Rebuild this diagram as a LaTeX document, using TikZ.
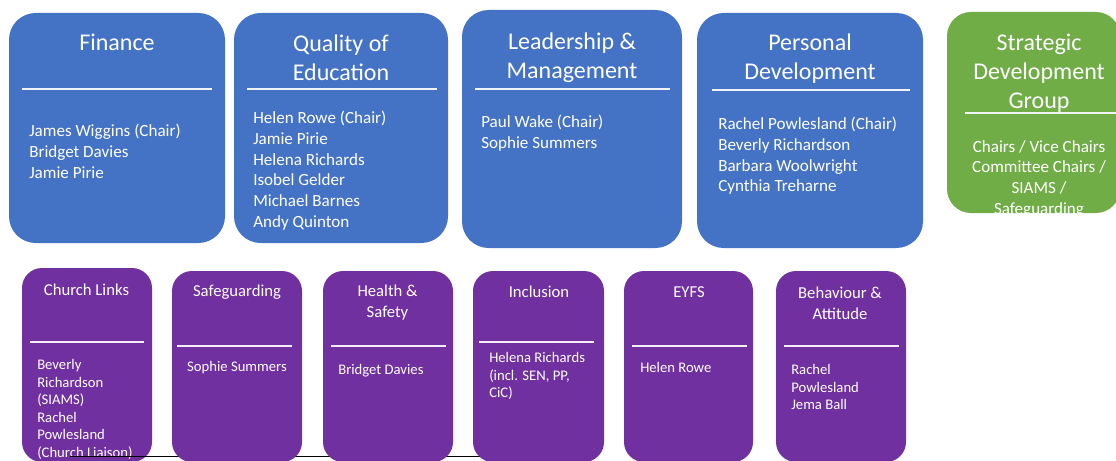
\documentclass[tikz,border=0pt]{standalone}
\usepackage{fontspec}
\setmainfont{Carlito}
\definecolor{govblue}{HTML}{4472C4}
\definecolor{govgreen}{HTML}{70AD47}
\definecolor{govpurple}{HTML}{7030A0}

\begin{document}
\begin{tikzpicture}[x=0.75pt, y=-0.75pt,
	box/.style = {rounded corners=20pt, inner sep=0pt},
	subbox/.style = {rounded corners=15pt, inner sep=0pt, fill=govpurple},
	boxsize/.style 2 args = {minimum width=#1*0.75pt, minimum height=#2*0.75pt},
	title/.style = {text=white, align=center, inner sep=0pt, font=\fontsize{18}{21.75}\selectfont},
	names/.style = {text=white, align=left, anchor=north west, inner sep=0pt, font=\fontsize{12.8}{15.5}\selectfont},
	subtitle/.style = {text=white, align=center, inner sep=0pt, font=\fontsize{12.5}{15.75}\selectfont},
	subnames/.style = {text=white, align=left, anchor=north west, inner sep=0pt, font=\fontsize{11}{13.2}\selectfont},
	rule/.style = {draw=white!92!govblue, line width=0.8pt}]
	\clip (0,0) rectangle (1116,460);

	% committees
	\node[box, fill=govblue, boxsize={216}{230}] (finance) at (117,128) {};
	\node[box, fill=govblue, boxsize={214}{230}] (quality) at (341,128) {};
	\node[box, fill=govblue, boxsize={220}{238}] (leadership) at (572,129) {};
	\node[box, fill=govblue, boxsize={226}{235}] (personal) at (810,130.5) {};
	\node[box, fill=govgreen, rounded corners=18pt, boxsize={173}{201}] (strategic) at (1033.5,112.5) {};

	\node[title] (financeT) at (117,42) {Finance};
	\node[title] (qualityT) at (341,58) {Quality of\\Education};
	\node[title] (leadershipT) at (572,57.5) {Leadership \&\\Management};
	\node[title] (personalT) at (810,59) {Personal\\Development};
	\node[title] (strategicT) at (1039,73) {Strategic\\Development\\Group};

	\draw[rule] (22,89) -- (212,89);
	\draw[rule] (247,89) -- (437,89);
	\draw[rule] (475,89) -- (670,89);
	\draw[rule] (712,90) -- (910,90);
	\draw[rule] (965,113) -- (1116,113);

	\node[names] (financeN) at (29,124) {James Wiggins (Chair)\\Bridget Davies\\Jamie Pirie};
	\node[names] (qualityN) at (253,111) {Helen Rowe (Chair)\\Jamie Pirie\\Helena Richards\\Isobel Gelder\\Michael Barnes\\Andy Quinton};
	\node[names] (leadershipN) at (481,115) {Paul Wake (Chair)\\Sophie Summers};
	\node[names] (personalN) at (718,117) {Rachel Powlesland (Chair)\\Beverly Richardson\\Barbara Woolwright\\Cynthia Treharne};
	\node[names, anchor=north, align=center] (strategicN) at (1039,140) {Chairs / Vice Chairs\\Committee Chairs /\\SIAMS /\\Safeguarding};

	% link groups
	\node[subbox, boxsize={130}{194}] (church) at (87,365) {};
	\node[subtitle] (churchT) at (86.5,290) {Church Links};
	\draw[rule, draw=white!92!govpurple] (30,342) -- (144,342);
	\node[subnames] (churchN) at (37,359) {Beverly\\Richardson\\(SIAMS)\\Rachel\\Powlesland\\(Church Liaison)};

	\coordinate (baseL) at (70,456);
	\coordinate (baseR) at (520,456);
	\draw[black, line width=0.7pt] (baseL) -- (baseR);

	\node[subbox, boxsize={130}{191}] (safe) at (237,366.5) {};
	\node[subbox, boxsize={130}{191}] (health) at (388,366.5) {};
	\node[subbox, boxsize={131}{191}] (inclusion) at (538.5,366.5) {};
	\node[subbox, boxsize={129}{191}] (eyfs) at (688.5,366.5) {};
	\node[subbox, boxsize={130}{191}] (behaviour) at (841,366.5) {};

	\node[subtitle] (safeT) at (237,292) {Safeguarding};
	\node[subtitle] (healthT) at (387.5,303) {Health \&\\Safety};
	\node[subtitle] (inclusionT) at (539,292) {Inclusion};
	\node[subtitle] (eyfsT) at (689,292) {EYFS};
	\node[subtitle] (behaviourT) at (840,303) {Behaviour \&\\Attitude};

	\draw[rule, draw=white!92!govpurple] (177,346) -- (292,346);
	\draw[rule, draw=white!92!govpurple] (331,346) -- (446,346);
	\draw[rule, draw=white!92!govpurple] (479,342) -- (594,342);
	\draw[rule, draw=white!92!govpurple] (632,346) -- (747,346);
	\draw[rule, draw=white!92!govpurple] (784,346) -- (899,346);

	\node[subnames, anchor=north, align=center] (safeN) at (237,361) {Sophie Summers};
	\node[subnames] (healthN) at (338,364) {Bridget Davies};
	\node[subnames] (inclusionN) at (489,352) {Helena Richards\\(incl. SEN, PP,\\CiC)};
	\node[subnames] (eyfsN) at (640,362) {Helen Rowe};
	\node[subnames] (behaviourN) at (791,364) {Rachel\\Powlesland\\Jema Ball};
\end{tikzpicture}
\end{document}
